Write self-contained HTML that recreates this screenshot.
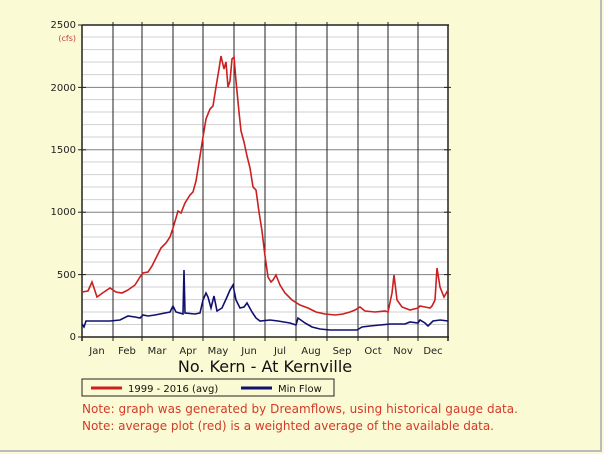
<!DOCTYPE html>
<html><head><meta charset="utf-8"><style>
html,body{margin:0;padding:0;background:#fafad4;}
svg{display:block;font-family:"DejaVu Sans","Liberation Sans",sans-serif;}
</style></head><body>
<svg width="604" height="454" viewBox="0 0 604 454" xmlns="http://www.w3.org/2000/svg">
<rect x="0" y="0" width="604" height="454" fill="#fafad4"/>
<line x1="601" y1="0" x2="601" y2="452" stroke="#bbb" stroke-width="2"/>
<line x1="0" y1="451" x2="602" y2="451" stroke="#bbb" stroke-width="2"/>
<rect x="82" y="25" width="366" height="312" fill="#ffffff"/>
<g stroke="#d0d0d0" stroke-width="1">
<line x1="82" x2="448" y1="324.5" y2="324.5"/><line x1="82" x2="448" y1="312" y2="312"/><line x1="82" x2="448" y1="299.6" y2="299.6"/><line x1="82" x2="448" y1="287" y2="287"/>
<line x1="82" x2="448" y1="262" y2="262"/><line x1="82" x2="448" y1="249.6" y2="249.6"/><line x1="82" x2="448" y1="237" y2="237"/><line x1="82" x2="448" y1="224.6" y2="224.6"/>
<line x1="82" x2="448" y1="199.6" y2="199.6"/><line x1="82" x2="448" y1="187" y2="187"/><line x1="82" x2="448" y1="174.6" y2="174.6"/><line x1="82" x2="448" y1="162" y2="162"/>
<line x1="82" x2="448" y1="137" y2="137"/><line x1="82" x2="448" y1="124.6" y2="124.6"/><line x1="82" x2="448" y1="112" y2="112"/><line x1="82" x2="448" y1="99.6" y2="99.6"/>
<line x1="82" x2="448" y1="74.6" y2="74.6"/><line x1="82" x2="448" y1="62" y2="62"/><line x1="82" x2="448" y1="49.6" y2="49.6"/><line x1="82" x2="448" y1="37" y2="37"/>
</g>
<g stroke="#808080" stroke-width="1">
<line x1="82" x2="448" y1="274.6" y2="274.6"/><line x1="82" x2="448" y1="212.2" y2="212.2"/><line x1="82" x2="448" y1="149.8" y2="149.8"/><line x1="82" x2="448" y1="87.4" y2="87.4"/>
<line x1="113" x2="113" y1="25" y2="337"/><line x1="142" x2="142" y1="25" y2="337"/><line x1="173" x2="173" y1="25" y2="337"/><line x1="203" x2="203" y1="25" y2="337"/><line x1="234" x2="234" y1="25" y2="337"/><line x1="265" x2="265" y1="25" y2="337"/><line x1="296" x2="296" y1="25" y2="337"/><line x1="327" x2="327" y1="25" y2="337"/><line x1="358" x2="358" y1="25" y2="337"/><line x1="388" x2="388" y1="25" y2="337"/><line x1="418" x2="418" y1="25" y2="337"/>
</g>
<g stroke="#222" stroke-width="1.5">
<line x1="82" x2="449" y1="25" y2="25"/><line x1="82" x2="449" y1="337" y2="337"/>
<line x1="82" x2="82" y1="25" y2="341"/><line x1="448" x2="448" y1="25" y2="341"/>
</g>
<g stroke="#222" stroke-width="1">
<line x1="113" x2="113" y1="22" y2="341"/><line x1="142" x2="142" y1="22" y2="341"/><line x1="173" x2="173" y1="22" y2="341"/><line x1="203" x2="203" y1="22" y2="341"/><line x1="234" x2="234" y1="22" y2="341"/><line x1="265" x2="265" y1="22" y2="341"/><line x1="296" x2="296" y1="22" y2="341"/><line x1="327" x2="327" y1="22" y2="341"/><line x1="358" x2="358" y1="22" y2="341"/><line x1="388" x2="388" y1="22" y2="341"/><line x1="418" x2="418" y1="22" y2="341"/>
<line x1="78" x2="86" y1="274.6" y2="274.6"/><line x1="78" x2="86" y1="212.2" y2="212.2"/><line x1="78" x2="86" y1="149.8" y2="149.8"/><line x1="78" x2="86" y1="87.4" y2="87.4"/><line x1="78" x2="86" y1="25" y2="25"/><line x1="78" x2="86" y1="337" y2="337"/>
<line x1="444" x2="451" y1="274.6" y2="274.6"/><line x1="444" x2="451" y1="212.2" y2="212.2"/><line x1="444" x2="451" y1="149.8" y2="149.8"/><line x1="444" x2="451" y1="87.4" y2="87.4"/>
</g>
<g font-size="10" fill="#222" text-anchor="end">
<text x="76" y="28">2500</text><text x="76" y="91">2000</text><text x="76" y="153">1500</text><text x="76" y="215">1000</text><text x="76" y="278">500</text><text x="76" y="340">0</text>
</g>
<text x="76" y="41" font-size="8" fill="#c04040" text-anchor="end">(cfs)</text>
<g font-size="10" fill="#222" text-anchor="middle">
<text x="97" y="354">Jan</text><text x="127" y="354">Feb</text><text x="157" y="354">Mar</text><text x="188" y="354">Apr</text><text x="218" y="354">May</text><text x="249" y="354">Jun</text><text x="280" y="354">Jul</text><text x="311" y="354">Aug</text><text x="342" y="354">Sep</text><text x="373" y="354">Oct</text><text x="403" y="354">Nov</text><text x="433" y="354">Dec</text>
</g>
<text x="265" y="372" font-size="16" fill="#111" text-anchor="middle">No. Kern - At Kernville</text>
<rect x="82" y="379" width="252" height="17" fill="#fafad4" stroke="#222" stroke-width="1"/>
<line x1="91" x2="122" y1="388" y2="388" stroke="#cc1f1f" stroke-width="3"/>
<text x="128" y="392" font-size="10" fill="#111">1999 - 2016 (avg)</text>
<line x1="241" x2="272" y1="388" y2="388" stroke="#10106e" stroke-width="3"/>
<text x="278" y="392" font-size="10" fill="#111">Min Flow</text>
<text x="82" y="413" font-size="12" fill="#d43a2a" textLength="436">Note: graph was generated by Dreamflows, using historical gauge data.</text>
<text x="82" y="430" font-size="12" fill="#d43a2a" textLength="412">Note: average plot (red) is a weighted average of the available data.</text>
<polyline fill="none" stroke="#cc1f1f" stroke-width="1.6" points="82,292 88,291 92,282 97,297 104,292 110,288 116,292 122,293 128,290 135,285 140,277 143,273 148,272 152,266 157,256 161,248 166,243 170,237 173,228 176,218 178,211 181,213 185,203 190,195 193,192 196,181 200,156 203,137 206,119 210,109 213,106 216,87 219,69 221,56 224,69 226,62 228,87 230,81 232,59 234,57 236,81 239,112 241,131 244,142 247,156 250,168 253,187 256,190 259,212 262,231 265,256 268,277 271,282 273,280 276,275 280,285 285,293 292,300 300,305 308,308 316,312 325,314 335,315 343,314 350,312 355,310 360,307 365,311 375,312 385,311 388,312 392,293 394,275 397,300 402,307 410,310 418,308 420,306 425,307 430,308 432,306 435,300 437,268 440,287 444,297 448,290"/>
<polyline fill="none" stroke="#10106e" stroke-width="1.6" points="82,324 84,327 86,321 95,321 110,321 120,320 128,316 135,317 140,318 143,315 148,316 155,315 165,313 170,312 173,306 176,312 183,314 184,270 185,313 195,314 200,313 203,300 206,293 208,297 211,308 214,296 217,311 222,308 227,297 230,290 233,285 236,300 240,308 244,307 247,303 252,312 256,318 260,321 270,320 278,321 290,323 296,325 298,318 305,323 312,327 320,329 330,330 340,330 350,330 357,330 362,327 370,326 380,325 390,324 405,324 410,322 418,323 420,320 425,323 428,326 433,321 440,320 448,321"/>
</svg>
</body></html>
